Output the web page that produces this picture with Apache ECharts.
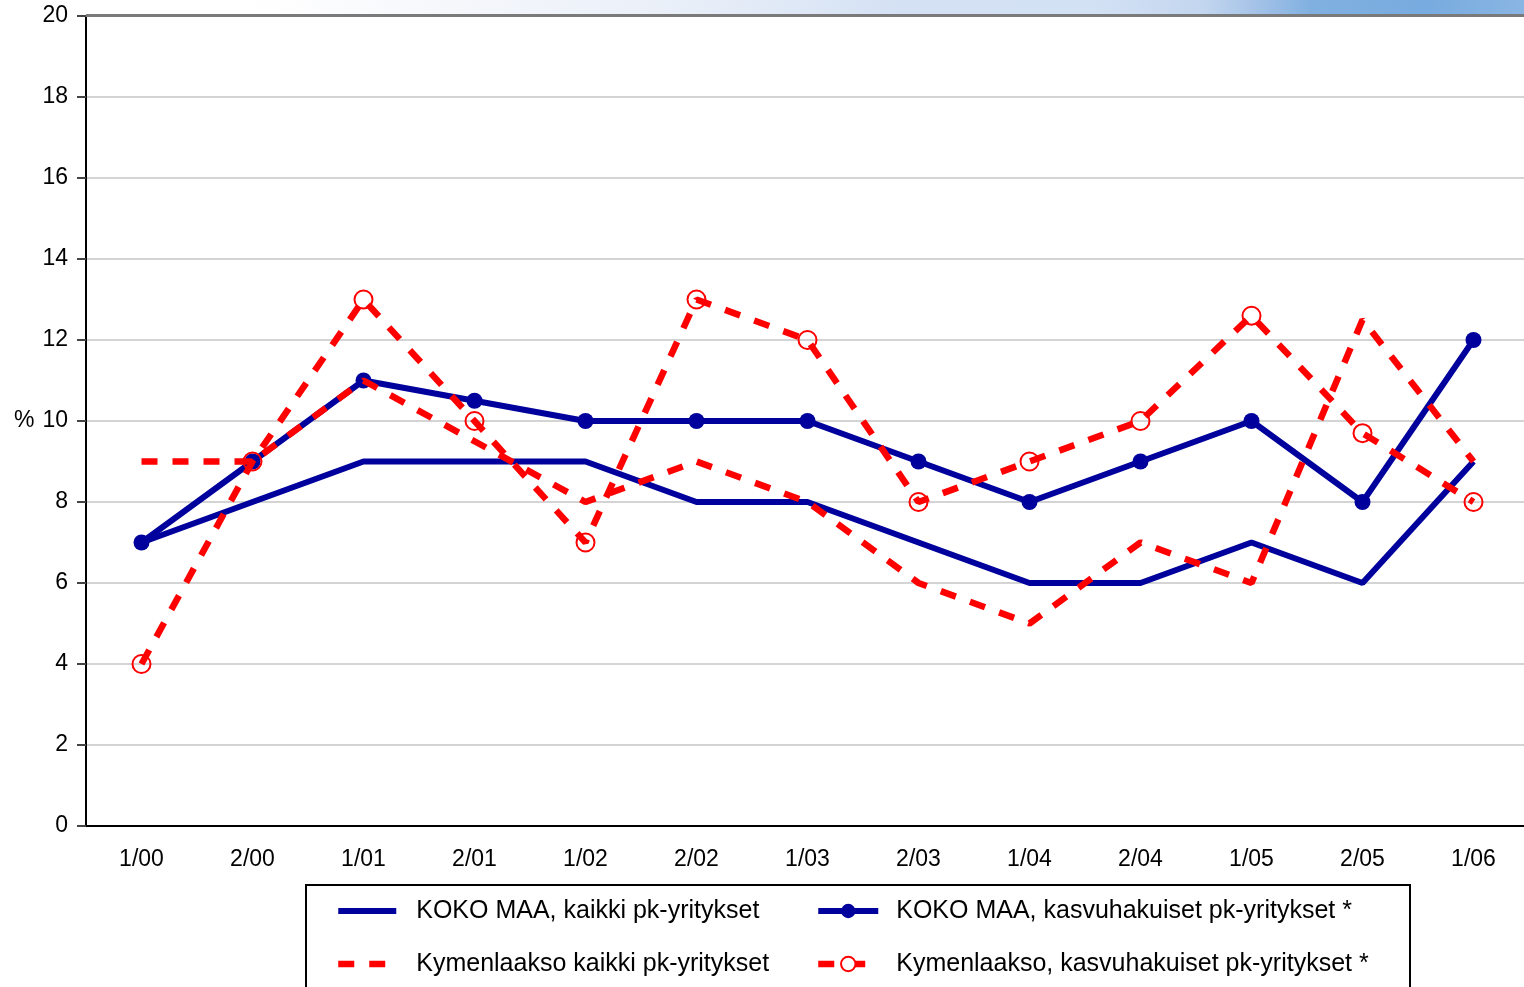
<!DOCTYPE html>
<html>
<head>
<meta charset="utf-8">
<script src="https://cdn.jsdelivr.net/npm/echarts@6/dist/echarts.min.js"></script>
<style>
html,body{margin:0;padding:0;background:#fff;overflow:hidden;}
#chart{width:1529px;height:987px;}
</style>
</head>
<body>
<div id="chart"></div>
<script>
const categories = ['1/00','2/00','1/01','2/01','1/02','2/02','1/03','2/03','1/04','2/04','1/05','2/05','1/06'];
const kokoMaaKaikki = [7, 8, 9, 9, 9, 8, 8, 7, 6, 6, 7, 6, 9];
const kokoMaaKasvu = [7, 9, 11, 10.5, 10, 10, 10, 9, 8, 9, 10, 8, 12];
const kymenKaikki = [9, 9, 11, 9.5, 8, 9, 8, 6, 5, 7, 6, 12.5, 9];
const kymenKasvu = [4, 9, 13, 10, 7, 13, 12, 8, 9, 10, 12.6, 9.7, 8];
const seriesNames = [
  'KOKO MAA, kaikki pk-yritykset',
  'KOKO MAA, kasvuhakuiset pk-yritykset *',
  'Kymenlaakso kaikki pk-yritykset',
  'Kymenlaakso, kasvuhakuiset pk-yritykset *'
];

const FONT = 'Liberation Sans, Arial, sans-serif';
const BLUE = '#00009c';
const RED = '#ff0000';

const chart = echarts.init(document.getElementById('chart'), null, {renderer: 'canvas'});
const legendText1 = {fontFamily: FONT, fontSize: 25, lineHeight: 28, color: '#000', padding: [0, 0, 0, 15]};
const legendText2 = {fontFamily: FONT, fontSize: 25, lineHeight: 28, color: '#000', padding: [0, 0, 0, 13]};
chart.setOption({
  animation: false,
  backgroundColor: '#fff',
  grid: {left: 86, right: 0, top: 16, bottom: 161, containLabel: false},
  graphic: [
    {
      type: 'rect', z: 0, silent: true,
      shape: {x: 250, y: 0, width: 1279, height: 15},
      style: {
        fill: new echarts.graphic.LinearGradient(0, 0, 1, 0, [
          {offset: 0, color: '#ffffff'},
          {offset: 0.12, color: '#f8f9fc'},
          {offset: 0.35, color: '#e8eef8'},
          {offset: 0.51, color: '#d4e1f4'},
          {offset: 0.66, color: '#d3e1f4'},
          {offset: 0.745, color: '#c3d6ef'},
          {offset: 0.79, color: '#a2c1e7'},
          {offset: 0.83, color: '#80b0e0'},
          {offset: 0.92, color: '#78abdf'},
          {offset: 1, color: '#8ab6e3'}
        ])
      }
    },
    {
      type: 'line', z: 100, silent: true,
      shape: {x1: 86, y1: 15.5, x2: 1529, y2: 15.5},
      style: {stroke: '#7a7a7a', lineWidth: 3}
    },
    {
      type: 'text', z: 100, silent: true,
      style: {x: 14, y: 421, text: '%', fontFamily: FONT, fontSize: 23, fill: '#000', verticalAlign: 'middle', align: 'left'}
    },
    {
      type: 'rect', z: 100, silent: true,
      shape: {x: 306, y: 885, width: 1104, height: 130},
      style: {fill: 'none', stroke: '#000', lineWidth: 2}
    }
  ],
  legend: [
    {
      orient: 'vertical', left: 335, top: 897, padding: 0,
      itemWidth: 58, itemHeight: 18, itemGap: 25,
      lineStyle: {width: 'inherit'},
      data: [
        {name: seriesNames[0], itemStyle: {opacity: 0}},
        {name: seriesNames[2], itemStyle: {opacity: 0}}
      ],
      textStyle: legendText1,
      selectedMode: false
    },
    {
      orient: 'vertical', left: 815, top: 897, padding: 0,
      itemWidth: 60, itemHeight: 18, itemGap: 25,
      lineStyle: {width: 'inherit'},
      data: [
        {name: seriesNames[1]},
        {name: seriesNames[3], itemStyle: {color: '#fff', borderColor: RED, borderWidth: 2}}
      ],
      textStyle: legendText2,
      selectedMode: false
    }
  ],
  xAxis: {
    type: 'category',
    data: categories,
    boundaryGap: true,
    axisLine: {lineStyle: {color: '#000', width: 2}},
    axisTick: {show: false},
    axisLabel: {fontFamily: FONT, fontSize: 23, color: '#000', margin: 22},
    splitLine: {show: false}
  },
  yAxis: {
    type: 'value',
    min: 0, max: 20, interval: 2,
    axisLine: {show: true, lineStyle: {color: '#000', width: 2}},
    axisTick: {show: true, length: 9, lineStyle: {color: '#444', width: 2}},
    axisLabel: {fontFamily: FONT, fontSize: 23, color: '#000', margin: 18},
    splitLine: {show: true, lineStyle: {color: '#c6c6c6', width: 1.5}}
  },
  series: [
    {
      name: seriesNames[0], type: 'line', data: kokoMaaKaikki,
      symbol: 'none',
      lineStyle: {color: BLUE, width: 6},
      itemStyle: {color: BLUE}, z: 2
    },
    {
      name: seriesNames[1], type: 'line', data: kokoMaaKasvu,
      symbol: 'circle', symbolSize: 16,
      lineStyle: {color: BLUE, width: 6},
      itemStyle: {color: BLUE}, z: 3
    },
    {
      name: seriesNames[2], type: 'line', data: kymenKaikki,
      symbol: 'none',
      lineStyle: {color: RED, width: 6.5, type: [16, 15]},
      itemStyle: {color: RED}, z: 4
    },
    {
      name: seriesNames[3], type: 'line', data: kymenKasvu,
      symbol: 'circle', symbolSize: 18,
      lineStyle: {color: RED, width: 6.5, type: [16, 15]},
      itemStyle: {color: 'rgba(255,255,255,0)', borderColor: RED, borderWidth: 2}, z: 5
    }
  ]
});
</script>
</body>
</html>
